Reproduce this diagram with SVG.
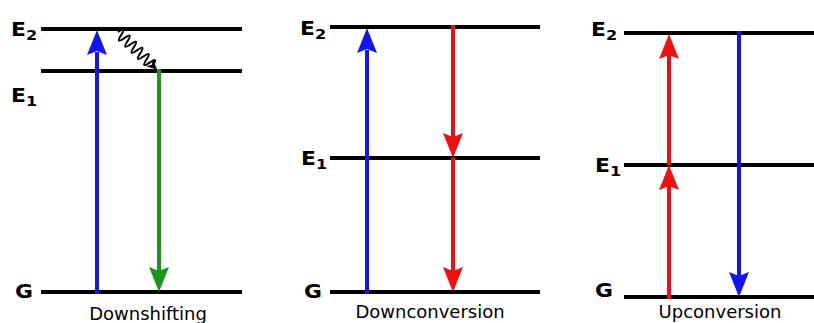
<svg xmlns="http://www.w3.org/2000/svg" xmlns:xlink="http://www.w3.org/1999/xlink" width="814" height="323" viewBox="0 0 814 323">
<style>
.lvl{stroke:#000;stroke-width:4;fill:none}
.lab{font-family:"DejaVu Sans",Verdana,sans-serif;font-weight:bold;font-size:19px;fill:#000}
.sub{font-size:14px}
.cap{font-family:"DejaVu Sans",Verdana,sans-serif;font-size:18px;fill:#000;text-anchor:middle}
.b{stroke:#1414f0;fill:#1414f0}
.r{stroke:#ee1111;fill:#ee1111}
.g{stroke:#1e961e;fill:#1e961e}
.shaft{stroke-width:4;fill:none}
.head{stroke:none}
</style>
<defs>
<path id="up" d="M0,0 L10,25 L0,21 L-10,25 Z"/>
<path id="dn" d="M0,0 L10,-25 L0,-21 L-10,-25 Z"/>
<marker id="sq" viewBox="0 0 10 10" refX="9" refY="5" markerWidth="10" markerHeight="10" orient="auto" markerUnits="userSpaceOnUse">
<path d="M0,0 L10,5 L0,10 L3,5 Z" fill="#000"/>
</marker>
</defs>

<g id="downshifting">
<g id="ds-levels">
<line class="lvl" x1="41" y1="29" x2="242" y2="29"/>
<line class="lvl" x1="41" y1="71" x2="242" y2="71"/>
<line class="lvl" x1="41" y1="292" x2="242" y2="292"/>
</g>
<g id="ds-labels">
<text class="lab" transform="translate(11,36) scale(1.15,1)">E<tspan class="sub" dy="4">2</tspan></text>
<text class="lab" transform="translate(11,102) scale(1.15,1)">E<tspan class="sub" dy="4">1</tspan></text>
<text class="lab" transform="translate(15,298) scale(1.15,1)">G</text>
<text class="cap" x="148" y="320">Downshifting</text>
</g>
</g>

<g id="downconversion">
<g id="dc-levels">
<line class="lvl" x1="330" y1="27" x2="540" y2="27"/>
<line class="lvl" x1="330" y1="158" x2="540" y2="158"/>
<line class="lvl" x1="330" y1="292" x2="540" y2="292"/>
</g>
<g id="dc-labels">
<text class="lab" transform="translate(300,35) scale(1.15,1)">E<tspan class="sub" dy="4">2</tspan></text>
<text class="lab" transform="translate(301,165) scale(1.15,1)">E<tspan class="sub" dy="4">1</tspan></text>
<text class="lab" transform="translate(304,298) scale(1.15,1)">G</text>
<text class="cap" x="430" y="318">Downconversion</text>
</g>
</g>

<g id="upconversion">
<g id="uc-levels">
<line class="lvl" x1="624" y1="33" x2="814" y2="33"/>
<line class="lvl" x1="624" y1="165" x2="814" y2="165"/>
<line class="lvl" x1="624" y1="297" x2="814" y2="297"/>
</g>
<g id="uc-labels">
<text class="lab" transform="translate(591,36) scale(1.15,1)">E<tspan class="sub" dy="4">2</tspan></text>
<text class="lab" transform="translate(595,172) scale(1.15,1)">E<tspan class="sub" dy="4">1</tspan></text>
<text class="lab" transform="translate(595,297) scale(1.15,1)">G</text>
<text class="cap" x="720" y="318">Upconversion</text>
</g>
</g>

<g id="connectors">
<g class="b">
<line class="shaft" x1="97" y1="294" x2="97" y2="52"/>
<use class="head" xlink:href="#up" href="#up" x="97" y="30"/>
</g>
<g class="g">
<line class="shaft" x1="159" y1="69" x2="159" y2="271"/>
<use class="head" xlink:href="#dn" href="#dn" x="159" y="292"/>
</g>
<g transform="translate(118,32) rotate(44)">
<path d="M0,0 q2.2,-11 4.4,0 t4.4,0 t4.4,0 t4.4,0 t4.4,0 t4.4,0 t4.4,0 t4.4,0 t4.4,0 t4.4,0 t4.4,0 L53,0" fill="none" stroke="#000" stroke-width="2" marker-end="url(#sq)"/>
</g>

<g class="b">
<line class="shaft" x1="367" y1="294" x2="367" y2="50"/>
<use class="head" xlink:href="#up" href="#up" x="367" y="28"/>
</g>
<g class="r">
<line class="shaft" x1="453" y1="25" x2="453" y2="137"/>
<use class="head" xlink:href="#dn" href="#dn" x="453" y="158"/>
<line class="shaft" x1="453" y1="158" x2="453" y2="271"/>
<use class="head" xlink:href="#dn" href="#dn" x="453" y="292"/>
</g>

<g class="r">
<line class="shaft" x1="669" y1="299" x2="669" y2="186"/>
<use class="head" xlink:href="#up" href="#up" x="669" y="165"/>
<line class="shaft" x1="669" y1="165" x2="669" y2="55"/>
<use class="head" xlink:href="#up" href="#up" x="669" y="34"/>
</g>
<g class="b">
<line class="shaft" x1="739" y1="31" x2="739" y2="276"/>
<use class="head" xlink:href="#dn" href="#dn" x="739" y="297"/>
</g>
</g>
</svg>
